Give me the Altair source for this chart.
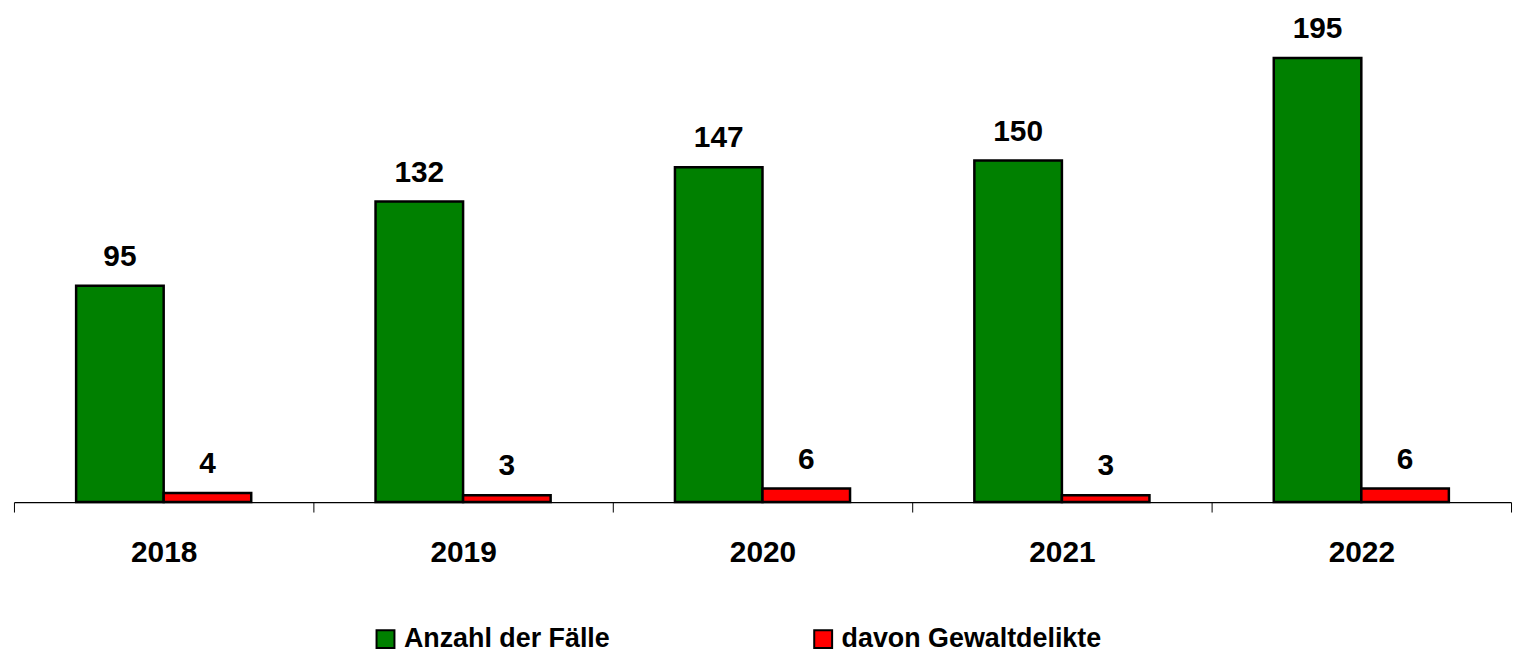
import altair as alt
import pandas as pd

years = ["2018", "2019", "2020", "2021", "2022"]
faelle = [95, 132, 147, 150, 195]
gewalt = [4, 3, 6, 3, 6]
series = ["Anzahl der Fälle", "davon Gewaltdelikte"]
colors = ["#008000", "#FF0000"]

rows = []
for y, a, b in zip(years, faelle, gewalt):
    rows.append({"Jahr": y, "Reihe": series[0], "Wert": a})
    rows.append({"Jahr": y, "Reihe": series[1], "Wert": b})
df = pd.DataFrame(rows)

FONT = "Liberation Sans"

x = alt.X("Jahr:N", sort=years, title=None,
          scale=alt.Scale(paddingInner=0, paddingOuter=0),
          axis=alt.Axis(labelAngle=0, labelFont=FONT, labelFontSize=30, labelFontWeight="bold",
                        labelColor="black", labelPadding=26, tickSize=10, tickColor="black",
                        domainColor="black", domainWidth=1.2, bandPosition=0, tickBand="extent"))
xo = alt.XOffset("Reihe:N", sort=series, scale=alt.Scale(paddingInner=0, paddingOuter=0.71))
y = alt.Y("Wert:Q", scale=alt.Scale(domain=[0, 200]), axis=None)

bars = alt.Chart(df).mark_bar(stroke="black", strokeWidth=2.5).encode(
    x=x, xOffset=xo, y=y,
    color=alt.Color("Reihe:N", sort=series, title=None,
                    scale=alt.Scale(domain=series, range=colors),
                    legend=alt.Legend(orient="none", direction="horizontal", legendX=360, legendY=582,
                                      labelFont=FONT, labelFontSize=27, labelFontWeight="bold",
                                      labelColor="black", symbolType="square", symbolSize=324,
                                      symbolStrokeColor="black", symbolStrokeWidth=2,
                                      symbolOpacity=1, labelOffset=5, columnPadding=200,
                                      labelLimit=400)),
)

labels = alt.Chart(df).mark_text(font=FONT, fontSize=30, fontWeight="bold", color="black",
                                 baseline="bottom", dy=-14).encode(
    x=x, xOffset=xo, y=y, text=alt.Text("Wert:Q")
)

chart = alt.layer(bars, labels).properties(
    width=1505, height=458,
    autosize=alt.AutoSizeParams(type="none"),
    padding={"left": 6, "top": 37, "right": 4, "bottom": 155},
).configure_view(stroke=None)

chart.save("out.html", embed_options={"renderer": "svg", "actions": False})
